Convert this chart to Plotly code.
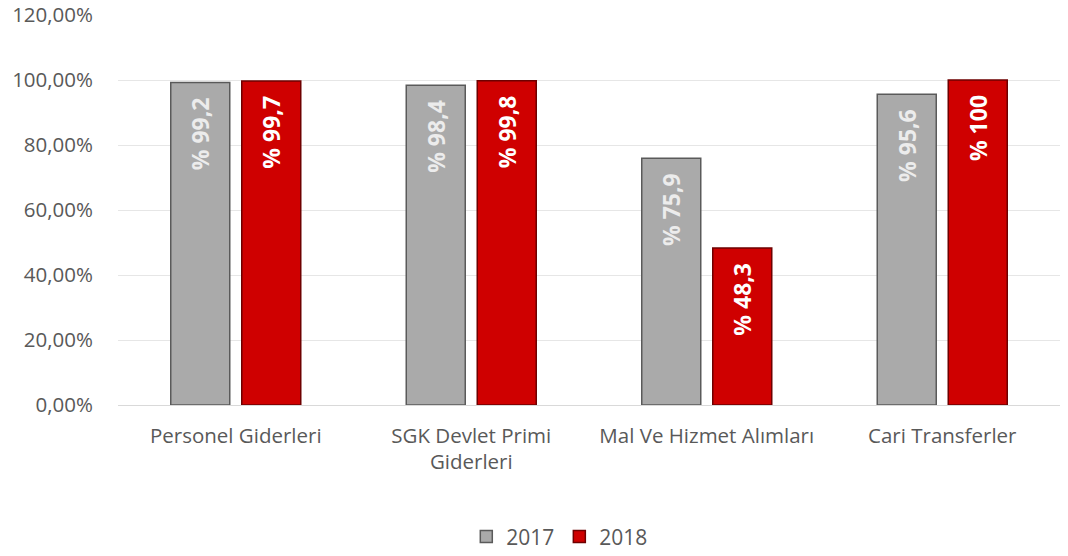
import plotly.graph_objects as go

categories = ["Personel Giderleri", "SGK Devlet Primi<br>Giderleri", "Mal Ve Hizmet Alımları", "Cari Transferler"]
series_names = ["2017", "2018"]
values_2017 = [99.2, 98.4, 75.9, 95.6]
values_2018 = [99.7, 99.8, 48.3, 100]
y_tick_values = [0, 0.2, 0.4, 0.6, 0.8, 1.0, 1.2]

FONT = "Open Sans, sans-serif"


def label(v):
    s = f"{v:g}".replace(".", ",")
    return f"% {s}\u00a0\u00a0"


def trace(name, vals, color, line, txtcolor):
    return go.Bar(
        name=name,
        x=categories,
        y=[v / 100 for v in vals],
        text=[label(v) for v in vals],
        textposition="inside",
        insidetextanchor="end",
        textangle=-90,
        constraintext="none",
        textfont=dict(family=FONT, size=23, color=txtcolor, weight="bold"),
        marker=dict(color=color, line=dict(color=line, width=1.5)),
        hoverinfo="skip",
        cliponaxis=False,
    )


fig = go.Figure()
fig.add_trace(trace(series_names[0], values_2017, "#aaaaaa", "#5a5a5a", "#ececec"))
fig.add_trace(trace(series_names[1], values_2018, "#cf0000", "#6e0000", "#ffffff"))

fig.update_layout(
    width=1068,
    height=556,
    margin=dict(l=118, r=8, t=15, b=151, autoexpand=False),
    paper_bgcolor="white",
    plot_bgcolor="white",
    separators=",.",
    barmode="group",
    bargap=0.397,
    bargroupgap=0.169,
    font=dict(family=FONT, color="#595959", size=20.5),
    showlegend=True,
    legend=dict(
        orientation="h",
        x=0.469,
        xanchor="center",
        y=-0.338,
        yanchor="middle",
        font=dict(family=FONT, size=21, color="#595959"),
        itemwidth=30,
    ),
)
fig.update_yaxes(
    range=[0, 1.2],
    tickvals=y_tick_values,
    tickformat=".2%",
    showgrid=True,
    gridcolor="#e6e6e6",
    gridwidth=1,
    zeroline=False,
    showline=False,
    ticks="",
    ticklabelstandoff=24,
    automargin=False,
    tickfont=dict(family=FONT, size=20.5, color="#595959"),
)
fig.update_xaxes(
    showline=True,
    linecolor="#d9d9d9",
    linewidth=1,
    ticks="",
    ticklabelstandoff=12,
    automargin=False,
    tickfont=dict(family=FONT, size=20.5, color="#595959"),
)

fig.write_html(
    "out.html",
    config={"displayModeBar": False},
    post_script="document.body.style.margin='0';",
)
